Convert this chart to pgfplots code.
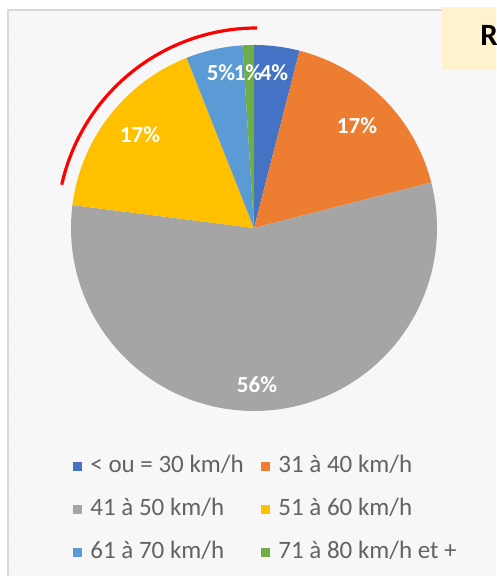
\documentclass[border=0pt]{standalone}
\usepackage{fontspec}
\setmainfont{Carlito}
\usepackage{pgfplots}
\pgfplotsset{compat=1.18}
\usetikzlibrary{patterns}
\definecolor{c1}{HTML}{4472C4}
\definecolor{c2}{HTML}{ED7D31}
\definecolor{c3}{HTML}{A5A5A5}
\definecolor{c4}{HTML}{FFC000}
\definecolor{c5}{HTML}{5B9BD5}
\definecolor{c6}{HTML}{70AD47}
\definecolor{bgc}{HTML}{F8F8F8}
\definecolor{bordc}{HTML}{D9D9D9}
\definecolor{boxc}{HTML}{FFF2CC}
\definecolor{legtext}{HTML}{636363}
\begin{document}
\begin{tikzpicture}
\path[use as bounding box, clip] (0,0) rectangle (248pt,288pt);
\begin{scope}[x=0.5pt,y=0.5pt]
\fill[white] (0,0) rectangle (496,576);
\fill[bgc] (7,0) rectangle (496,566);
\fill[pattern=north west lines, pattern color=black!4] (7,0) rectangle (496,566);
\draw[bordc, line width=1pt] (7.5,0) -- (7.5,566) -- (496,566);
\fill[boxc] (442,506) rectangle (496,569);
\node[anchor=west, inner sep=0pt, font=\fontsize{15.5}{18}\selectfont\bfseries] at (480,541) {R};
\end{scope}
\begin{axis}[
  x=0.5pt, y=0.5pt,
  xmin=0, xmax=496, ymin=0, ymax=576,
  hide axis, clip=false,
  legend columns=2,
  legend image code/.code={\fill[#1] (0pt,-2.25pt) rectangle (4.5pt,2.25pt);},
  legend style={draw=none, fill=none, at={(axis cs:73,124)}, anchor=north west,
    inner sep=0pt, row sep=7.5pt,
    font=\fontsize{12.5}{14}\selectfont, text=legtext,
    nodes={inner ysep=1pt, inner xsep=0pt, text height=9pt, text depth=3pt},
    /tikz/every odd column/.append style={column sep=4pt},
    /tikz/every even column/.append style={column sep=0pt}},
  legend cell align=left,
]
% slices: percentages 4, 17, 56, 17, 5, 1 (cumulative bounds in domain)
\addplot[fill=c1, draw=none, domain=0:4, samples=20] ({254+183*sin(3.6*x)},{348+183*cos(3.6*x)}) -- (axis cs:254,348) -- cycle;
\addplot[fill=c2, draw=none, domain=4:21, samples=40] ({254+183*sin(3.6*x)},{348+183*cos(3.6*x)}) -- (axis cs:254,348) -- cycle;
\addplot[fill=c3, draw=none, domain=21:77, samples=100] ({254+183*sin(3.6*x)},{348+183*cos(3.6*x)}) -- (axis cs:254,348) -- cycle;
\addplot[fill=c4, draw=none, domain=77:94, samples=40] ({254+183*sin(3.6*x)},{348+183*cos(3.6*x)}) -- (axis cs:254,348) -- cycle;
\addplot[fill=c5, draw=none, domain=94:99, samples=20] ({254+183*sin(3.6*x)},{348+183*cos(3.6*x)}) -- (axis cs:254,348) -- cycle;
\addplot[fill=c6, draw=none, domain=99:100, samples=10] ({254+183*sin(3.6*x)},{348+183*cos(3.6*x)}) -- (axis cs:254,348) -- cycle;
\legend{\makebox[85.5pt][l]{< ou = 30 km/h}, 31 à 40 km/h, \makebox[85.5pt][l]{41 à 50 km/h}, 51 à 60 km/h, \makebox[85.5pt][l]{61 à 70 km/h}, 71 à 80 km/h et +}
% data labels
\begin{scope}[every node/.style={text=white, font=\fontsize{11.5}{13}\selectfont\bfseries, inner sep=0pt}]
\node at (axis cs:274,503) {4\%};
\node at (axis cs:357,450) {17\%};
\node at (axis cs:257,191) {56\%};
\node at (axis cs:140,441) {17\%};
\node at (axis cs:221,503) {5\%};
\node at (axis cs:248,503) {1\%};
\end{scope}
% red annotation arc
\draw[red, line width=1.6pt] (axis cs:257,548) arc[start angle=90, end angle=167.5, radius=100pt];
\end{axis}
\end{tikzpicture}
\end{document}
